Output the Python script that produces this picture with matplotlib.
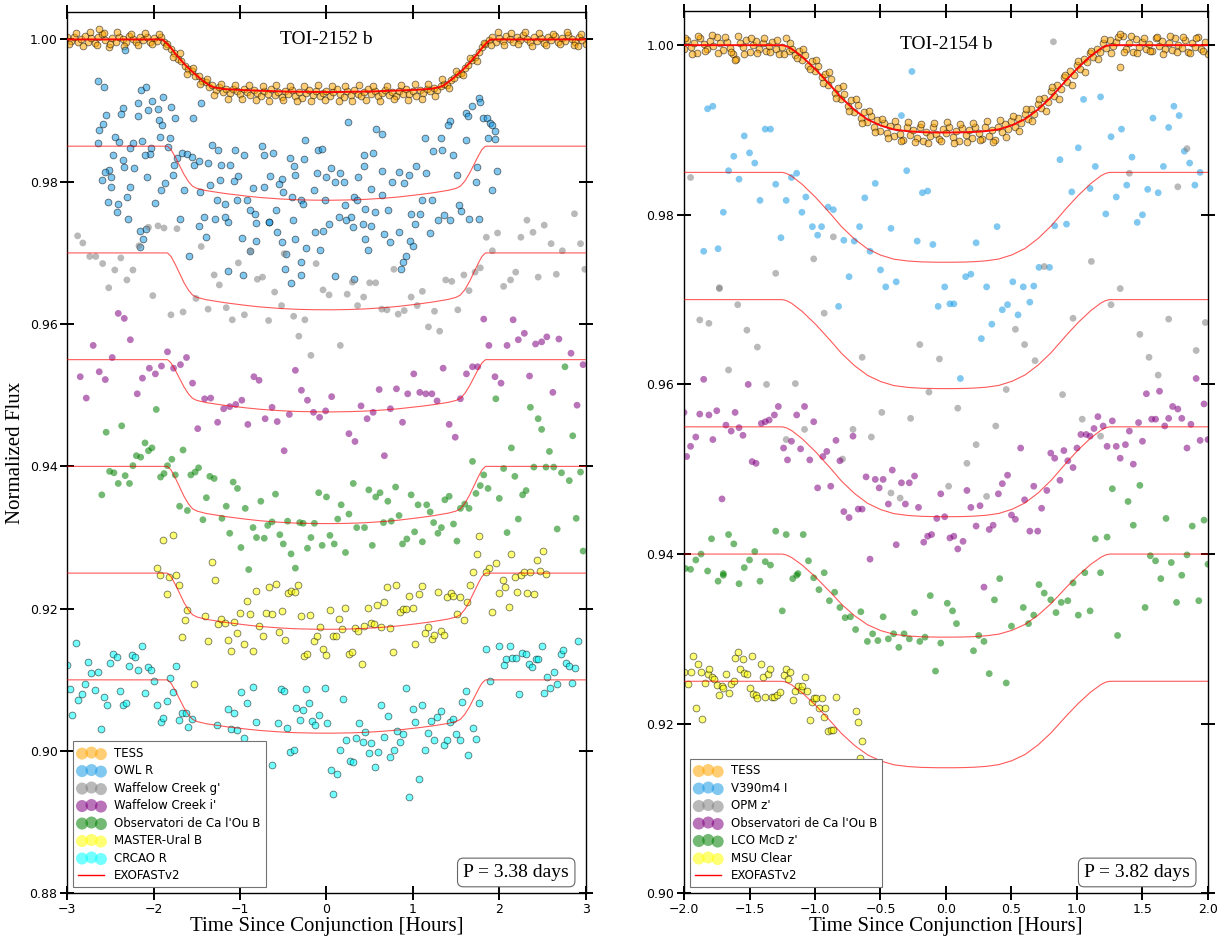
import numpy as np
import matplotlib
matplotlib.use("Agg")
import matplotlib.pyplot as plt
from matplotlib.lines import Line2D

# ---------------- LEFT PANEL DATA (TOI-2152 b) ----------------
left_labels = ["TESS", "OWL R", "Waffelow Creek g'", "Waffelow Creek i'",
               "Observatori de Ca l'Ou B", "MASTER-Ural B", "CRCAO R"]
left_colors = ["orange", "#1a9be6", "gray", "purple", "green", "yellow", "cyan"]
left_edges = [True, True, False, False, False, True, True]
left_offsets = [1.000, 0.985, 0.970, 0.955, 0.940, 0.925, 0.910]
left_depths = [0.0074, 0.0076, 0.0080, 0.00735, 0.00805, 0.0079, 0.0075]

# normalized transit profile (fraction of depth)
left_shape_t = [-3.0, -1.84, -1.80, -1.75, -1.70, -1.65, -1.60, -1.55, -1.50, -1.40, -1.20,
                -1.00, -0.80, -0.60, -0.40, -0.20, 0.0, 0.20, 0.40, 0.60, 0.80, 1.00,
                1.20, 1.40, 1.50, 1.55, 1.60, 1.65, 1.70, 1.75, 1.80, 1.84, 3.0]
left_shape_r = [0, 0, 0.06, 0.20, 0.36, 0.52, 0.65, 0.74, 0.78, 0.82, 0.87,
                0.91, 0.945, 0.97, 0.988, 0.997, 1.0, 0.997, 0.988, 0.97, 0.945, 0.91,
                0.87, 0.82, 0.78, 0.74, 0.65, 0.52, 0.36, 0.20, 0.06, 0, 0]
left_tess_shape_t = [-3.0, -1.90, -1.85, -1.80, -1.75, -1.70, -1.65, -1.60, -1.55, -1.50,
                     -1.45, -1.40, -1.35, -1.30, -1.20, -1.00, -0.50, 0.0, 0.50, 1.00,
                     1.20, 1.30, 1.35, 1.40, 1.45, 1.50, 1.55, 1.60, 1.65, 1.70, 1.75,
                     1.80, 1.85, 1.90, 3.0]
left_tess_shape_r = [0, 0, 0.07, 0.16, 0.27, 0.36, 0.46, 0.54, 0.62, 0.69,
                     0.76, 0.82, 0.88, 0.91, 0.94, 0.96, 0.99, 1.0, 0.99, 0.96,
                     0.94, 0.91, 0.88, 0.82, 0.76, 0.69, 0.62, 0.54, 0.46, 0.36, 0.27,
                     0.16, 0.07, 0, 0]

tess_l = [(-3.00,1.0003),(-2.96,0.9998),(-2.92,1.0004),(-2.88,0.9996),(-2.84,1.0001),(-2.80,1.0005),
(-2.76,0.9997),(-2.72,1.0002),(-2.68,0.9995),(-2.64,1.0003),(-2.60,1.0008),(-2.56,0.9999),(-2.52,0.9990),
(-2.48,1.0002),(-2.44,0.9996),(-2.40,1.0004),(-2.36,1.0000),(-2.32,0.9997),(-2.28,1.0005),(-2.24,1.0001),
(-2.20,0.9996),(-2.16,1.0003),(-2.12,0.9999),(-2.08,1.0004),(-2.04,0.9997),(-2.00,1.0002),(-1.96,0.9998),
(-1.92,1.0003),(-1.88,0.9996),(-1.84,0.9994),(-1.80,0.9986),(-1.76,0.9981),(-1.72,0.9972),(-1.68,0.9970),
(-1.64,0.9963),(-1.60,0.9958),(-1.56,0.9956),(-1.52,0.9948),(-1.48,0.9949),(-1.44,0.9941),(-1.40,0.9940),
(-1.36,0.9933),(-1.32,0.9936),(-1.28,0.9929),(-1.24,0.9933),(-1.20,0.9926),(-1.16,0.9931),(-1.12,0.9925),
(-1.08,0.9930),(-1.04,0.9927),(-1.00,0.9923),(-0.96,0.9930),(-0.92,0.9926),(-0.88,0.9922),(-0.84,0.9929),
(-0.80,0.9925),(-0.76,0.9920),(-0.72,0.9928),(-0.68,0.9924),(-0.64,0.9930),(-0.60,0.9922),(-0.56,0.9926),
(-0.52,0.9919),(-0.48,0.9927),(-0.44,0.9923),(-0.40,0.9929),(-0.36,0.9921),(-0.32,0.9926),(-0.28,0.9918),
(-0.24,0.9925),(-0.20,0.9929),(-0.16,0.9922),(-0.12,0.9927),(-0.08,0.9920),(-0.04,0.9925),(0.00,0.9928),
(0.04,0.9921),(0.08,0.9926),(0.12,0.9931),(0.16,0.9923),(0.20,0.9919),(0.24,0.9927),(0.28,0.9922),
(0.32,0.9929),(0.36,0.9924),(0.40,0.9920),(0.44,0.9926),(0.48,0.9931),(0.52,0.9923),(0.56,0.9927),
(0.60,0.9921),(0.64,0.9925),(0.68,0.9929),(0.72,0.9922),(0.76,0.9926),(0.80,0.9920),(0.84,0.9928),
(0.88,0.9924),(0.92,0.9930),(0.96,0.9923),(1.00,0.9927),(1.04,0.9921),(1.08,0.9929),(1.12,0.9925),
(1.16,0.9931),(1.20,0.9927),(1.24,0.9932),(1.28,0.9929),(1.32,0.9935),(1.36,0.9938),(1.40,0.9936),
(1.44,0.9943),(1.48,0.9946),(1.52,0.9951),(1.56,0.9953),(1.60,0.9960),(1.64,0.9964),(1.68,0.9971),
(1.72,0.9975),(1.76,0.9982),(1.80,0.9989),(1.84,0.9993),(1.88,0.9999),(1.92,1.0003),(1.96,0.9997),
(2.00,1.0002),(2.04,0.9998),(2.08,1.0005),(2.12,1.0001),(2.16,0.9996),(2.20,1.0003),(2.24,0.9999),
(2.28,1.0006),(2.32,1.0000),(2.36,0.9997),(2.40,1.0004),(2.44,0.9998),(2.48,1.0002),(2.52,0.9995),
(2.56,1.0003),(2.60,0.9999),(2.64,1.0005),(2.68,0.9997),(2.72,1.0002),(2.76,0.9998),(2.80,1.0006),
(2.84,1.0001),(2.88,0.9996),(2.92,1.0003),(2.96,0.9999),(3.00,0.9993),
(-2.98,0.9993),(-2.90,1.0009),(-2.82,0.9991),(-2.74,1.0010),(-2.66,0.9992),(-2.58,1.0009),(-2.50,0.9993),
(-2.42,1.0010),(-2.34,0.9991),(-2.26,1.0008),(-2.18,0.9992),(-2.10,1.0009),(-2.02,0.9993),(-1.94,1.0008),
(-1.86,0.9991),(-1.78,0.9976),(-1.70,0.9981),(-1.62,0.9952),(-1.54,0.9960),(-1.46,0.9937),(-1.38,0.9945),
(-1.30,0.9922),(-1.22,0.9938),(-1.14,0.9917),(-1.06,0.9936),(-0.98,0.9916),(-0.90,0.9936),(-0.82,0.9915),
(-0.74,0.9935),(-0.66,0.9914),(-0.58,0.9936),(-0.50,0.9915),(-0.42,0.9935),(-0.34,0.9913),(-0.26,0.9934),
(-0.18,0.9914),(-0.10,0.9936),(-0.02,0.9915),(0.06,0.9934),(0.14,0.9914),(0.22,0.9935),(0.30,0.9913),
(0.38,0.9936),(0.46,0.9915),(0.54,0.9935),(0.62,0.9914),(0.70,0.9934),(0.78,0.9916),(0.86,0.9936),
(0.94,0.9915),(1.02,0.9937),(1.10,0.9916),(1.18,0.9938),(1.26,0.9920),(1.34,0.9944),(1.42,0.9932),
(1.50,0.9955),(1.58,0.9950),(1.66,0.9974),(1.74,0.9970),(1.82,0.9995),(1.90,0.9992),(1.98,1.0010),
(2.06,0.9992),(2.14,1.0009),(2.22,0.9993),(2.30,1.0010),(2.38,0.9991),(2.46,1.0009),(2.54,0.9992),
(2.62,1.0008),(2.70,0.9993),(2.78,1.0011),(2.86,0.9992),(2.94,1.0007),(-2.63,1.0015),(2.91,0.9991)]

owl_r = [(-2.33,0.9985),(-2.64,0.9942),(-2.58,0.9933),(-2.15,0.9929),(-2.09,0.9933),(-1.89,0.9919),(-2.02,0.9913),
(-1.45,0.9911),(-2.35,0.9903),(-2.18,0.9910),(-1.80,0.9905),(-2.06,0.9901),(-1.95,0.9902),(-2.55,0.9894),
(-2.38,0.9895),(-1.75,0.9890),(-1.55,0.9890),(-2.18,0.9893),(-2.59,0.9881),(-2.63,0.9873),(-1.94,0.9887),
(-1.90,0.9880),(0.25,0.9884),(0.57,0.9874),(0.64,0.9867),(1.43,0.9885),(1.41,0.9880),(1.61,0.9897),
(1.64,0.9893),(1.68,0.9907),(1.76,0.9918),(1.78,0.9912),(1.81,0.9890),(1.86,0.9890),(1.89,0.9882),
(1.92,0.9880),(1.95,0.9872),(1.87,0.9862),(1.95,0.9860),(-2.45,0.9863),(-2.40,0.9856),(-2.64,0.9854),
(-1.93,0.9863),(-1.81,0.9862),(-2.24,0.9855),(-2.14,0.9857),(-2.27,0.9847),(-2.03,0.9848),(-2.04,0.9839),
(-2.10,0.9837),(-2.47,0.9838),(-2.36,0.9830),(-2.34,0.9821),(-2.23,0.9819),(-2.52,0.9817),(-2.56,0.9814),
(-2.60,0.9802),(-2.49,0.9807),(-2.49,0.9792),(-2.27,0.9792),(-2.08,0.9806),(-1.83,0.9849),(-1.73,0.9834),
(-1.67,0.9840),(-1.62,0.9839),(-1.56,0.9835),(-1.53,0.9823),(-1.48,0.9829),(-1.76,0.9824),(-1.78,0.9809),
(-1.91,0.9788),(-1.87,0.9798),(-2.53,0.9772),(-2.41,0.9769),(-2.31,0.9778),(-2.43,0.9757),(-2.30,0.9748),
(-1.99,0.9770),(-2.16,0.9731),(-2.09,0.9734),(-2.12,0.9719),(-2.16,0.9709),(-1.37,0.9827),(-1.33,0.9851),
(-1.25,0.9845),(-1.22,0.9824),(-1.12,0.9824),(-1.06,0.9844),(-0.96,0.9838),(-0.75,0.9850),(-0.62,0.9841),
(-0.72,0.9837),(-0.25,0.9858),(-0.10,0.9844),(-0.05,0.9846),(-0.42,0.9834),(-0.26,0.9832),(-0.38,0.9822),
(-0.36,0.9810),(-0.52,0.9804),(-0.65,0.9808),(-1.02,0.9808),(-1.07,0.9801),(-1.23,0.9802),(-1.35,0.9795),
(-1.65,0.9788),(-1.46,0.9785),(-1.27,0.9774),(-1.18,0.9769),(-1.04,0.9775),(-0.92,0.9774),(-0.85,0.9791),
(-0.72,0.9793),(-0.55,0.9797),(-0.50,0.9785),(-0.30,0.9775),(-0.11,0.9812),(-0.01,0.9807),(0.05,0.9819),
(0.16,0.9812),(0.10,0.9800),(0.20,0.9800),(0.36,0.9807),(0.43,0.9822),(0.43,0.9838),(0.54,0.9841),
(0.64,0.9815),(0.52,0.9790),(0.64,0.9781),(0.76,0.9800),(0.84,0.9814),(0.90,0.9798),(0.96,0.9809),
(1.04,0.9822),(1.15,0.9813),(1.14,0.9862),(1.23,0.9843),(1.32,0.9862),(1.34,0.9844),(1.46,0.9838),
(1.51,0.9810),(1.62,0.9859),(1.74,0.9821),(1.73,0.9799),(1.97,0.9815),(1.91,0.9788),(1.77,0.9748),
(1.65,0.9748),(1.56,0.9759),(1.53,0.9768),(1.43,0.9746),(1.29,0.9746),(1.36,0.9753),(1.20,0.9728),
(1.10,0.9774),(1.22,0.9774),(1.08,0.9755),(0.98,0.9755),(1.02,0.9741),(0.97,0.9717),(0.92,0.9696),
(0.88,0.9687),(0.86,0.9678),(0.84,0.9730),(0.74,0.9715),(0.66,0.9727),(0.71,0.9760),(0.56,0.9757),
(0.45,0.9762),(0.52,0.9738),(0.45,0.9720),(0.42,0.9741),(0.28,0.9750),(0.31,0.9736),(0.23,0.9746),
(0.14,0.9750),(0.03,0.9741),(-0.04,0.9731),(-0.13,0.9729),(-0.07,0.9704),(-0.24,0.9707),(-0.30,0.9687),
(-0.36,0.9720),(-0.39,0.9746),(-0.52,0.9716),(-0.47,0.9699),(-0.57,0.9730),(-0.66,0.9743),(-0.81,0.9742),
(-0.81,0.9717),(-0.98,0.9721),(-0.88,0.9703),(-1.14,0.9744),(-1.18,0.9750),(-1.39,0.9722),(-1.47,0.9738),
(-1.42,0.9750),(-1.69,0.9747),(-1.59,0.9695),(-1.14,0.9674),(-0.97,0.9669),(-0.48,0.9677),(-0.41,0.9658),
(-0.29,0.9669),(0.10,0.9668),(0.32,0.9664),(0.48,0.9704),(1.00,0.9710),(0.32,0.9779),(0.22,0.9767),
(0.35,0.9774),(-0.02,0.9775),(-0.14,0.9788),(-0.27,0.9769),(-0.40,0.9778),(-0.88,0.9760),(-0.83,0.9754),
(-0.59,0.9760),(-0.67,0.9744),(-1.29,0.9747)]

waffelow_g = [(-2.88,0.9724),(-2.82,0.9714),(-2.74,0.9695),(-2.67,0.9695),(-2.59,0.9685),(-2.38,0.9693),
(-2.45,0.9676),(-2.52,0.9651),(-2.31,0.9662),(-2.24,0.9676),(-2.17,0.9710),(-2.06,0.9736),(-1.95,0.9738),
(-1.88,0.9735),(-1.73,0.9734),(-2.01,0.9640),(-1.45,0.9709),(-1.51,0.9636),(-1.30,0.9669),(-1.24,0.9655),
(-1.02,0.9686),(-0.88,0.9703),(-0.80,0.9663),(-0.74,0.9666),(-0.60,0.9645),(-0.49,0.9699),(-0.12,0.9685),
(-0.04,0.9648),(0.03,0.9641),(0.24,0.9642),(0.43,0.9638),(0.50,0.9658),(0.57,0.9658),(0.30,0.9659),
(0.78,0.9677),(0.98,0.9638),(1.11,0.9646),(1.38,0.9662),(1.45,0.9660),(1.59,0.9669),(1.65,0.9647),
(1.72,0.9673),(1.78,0.9679),(1.85,0.9722),(1.92,0.9703),(1.98,0.9728),(2.05,0.9653),(2.13,0.9662),
(2.19,0.9673),(2.25,0.9722),(2.32,0.9746),(2.39,0.9729),(2.45,0.9666),(2.52,0.9739),(2.60,0.9713),
(2.66,0.9670),(2.73,0.9703),(2.87,0.9755),(2.94,0.9713),(2.99,0.9677),(-1.80,0.9613),(-1.66,0.9617),
(-1.37,0.9621),(-1.16,0.9623),(-1.09,0.9606),(-0.95,0.9613),(-0.67,0.9605),(-0.52,0.9626),(-0.38,0.9611),
(-0.25,0.9606),(-0.32,0.9583),(-0.18,0.9556),(0.16,0.9570),(0.36,0.9626),(0.64,0.9621),(0.70,0.9620),
(0.83,0.9614),(0.90,0.9619),(1.05,0.9626),(1.18,0.9596),(1.25,0.9618),(1.31,0.9590),(1.52,0.9620)]

waffelow_i = [(-2.85,0.9526),(-2.78,0.9496),(-2.70,0.9570),(-2.63,0.9533),(-2.56,0.9522),(-2.48,0.9553),
(-2.41,0.9615),(-2.34,0.9608),(-2.27,0.9578),(-2.19,0.9502),(-2.13,0.9524),(-2.05,0.9538),(-1.98,0.9530),
(-1.91,0.9541),(-1.84,0.9561),(-1.77,0.9538),(-1.69,0.9543),(-1.62,0.9553),(-1.55,0.9517),(-1.49,0.9453),
(-1.41,0.9495),(-1.34,0.9496),(-1.26,0.9462),(-1.19,0.9481),(-1.12,0.9484),(-1.05,0.9487),(-0.98,0.9493),
(-0.91,0.9459),(-0.84,0.9526),(-0.78,0.9521),(-0.71,0.9467),(-0.63,0.9483),(-0.57,0.9463),(-0.49,0.9422),
(-0.43,0.9473),(-0.36,0.9535),(-0.29,0.9507),(-0.22,0.9493),(-0.15,0.9476),(-0.08,0.9469),(-0.01,0.9478),
(0.06,0.9498),(0.26,0.9446),(0.33,0.9435),(0.40,0.9485),(0.47,0.9467),(0.54,0.9476),(0.61,0.9508),
(0.67,0.9415),(0.74,0.9481),(0.81,0.9509),(0.88,0.9462),(0.94,0.9502),(1.01,0.9530),(1.08,0.9504),
(1.15,0.9502),(1.22,0.9502),(1.28,0.9492),(1.35,0.9538),(1.42,0.9459),(1.49,0.9441),(1.55,0.9495),
(1.62,0.9530),(1.69,0.9540),(1.75,0.9540),(1.82,0.9607),(1.88,0.9570),(1.95,0.9526),(2.02,0.9517),
(2.09,0.9570),(2.16,0.9606),(2.22,0.9578),(2.29,0.9587),(2.35,0.9527),(2.42,0.9572),(2.49,0.9575),
(2.55,0.9582),(2.62,0.9504),(2.69,0.9579),(2.83,0.9559),(2.90,0.9486),(2.97,0.9543)]

caou_l = [(-2.55,0.9448),(-2.37,0.9457),(-2.60,0.9360),(-2.51,0.9393),(-2.46,0.9391),(-2.41,0.9376),
(-2.33,0.9387),(-2.28,0.9376),(-2.24,0.9401),(-2.20,0.9415),(-2.15,0.9413),(-2.10,0.9433),(-2.06,0.9422),
(-2.02,0.9426),(-1.97,0.9480),(-1.92,0.9385),(-1.88,0.9390),(-1.84,0.9401),(-1.79,0.9410),(-1.75,0.9388),
(-1.70,0.9344),(-1.66,0.9423),(-1.61,0.9338),(-1.57,0.9388),(-1.52,0.9392),(-1.48,0.9398),(-1.43,0.9325),
(-1.39,0.9356),(-1.35,0.9386),(-1.30,0.9383),(-1.21,0.9327),(-1.16,0.9344),(-1.12,0.9306),(-1.08,0.9378),
(-1.03,0.9369),(-0.99,0.9286),(-0.94,0.9341),(-0.90,0.9255),(-0.85,0.9314),(-0.81,0.9300),(-0.76,0.9351),
(-0.72,0.9299),(-0.68,0.9317),(-0.63,0.9322),(-0.59,0.9361),(-0.54,0.9304),(-0.50,0.9291),(-0.45,0.9323),
(-0.41,0.9277),(-0.36,0.9257),(-0.31,0.9321),(-0.27,0.9320),(-0.22,0.9285),(-0.18,0.9300),(-0.14,0.9320),
(-0.09,0.9363),(-0.05,0.9289),(0.00,0.9357),(0.04,0.9303),(0.09,0.9291),(0.13,0.9326),(0.17,0.9346),
(0.22,0.9279),(0.26,0.9333),(0.31,0.9376),(0.35,0.9314),(0.44,0.9314),(0.49,0.9367),(0.53,0.9289),
(0.57,0.9357),(0.62,0.9363),(0.66,0.9321),(0.71,0.9351),(0.75,0.9323),(0.80,0.9371),(0.84,0.9331),
(0.88,0.9291),(0.93,0.9298),(0.98,0.9360),(1.02,0.9308),(1.06,0.9346),(1.11,0.9294),(1.16,0.9346),
(1.20,0.9336),(1.24,0.9321),(1.29,0.9306),(1.33,0.9314),(1.37,0.9353),(1.42,0.9358),(1.47,0.9319),
(1.51,0.9295),(1.55,0.9341),(1.60,0.9347),(1.65,0.9341),(1.69,0.9407),(1.73,0.9362),(1.78,0.9373),
(1.82,0.9388),(1.87,0.9369),(1.96,0.9495),(2.00,0.9355),(2.05,0.9397),(2.09,0.9307),(2.14,0.9426),
(2.18,0.9386),(2.22,0.9326),(2.27,0.9360),(2.31,0.9366),(2.36,0.9483),(2.40,0.9399),(2.45,0.9467),
(2.49,0.9452),(2.54,0.9399),(2.58,0.9421),(2.63,0.9399),(2.67,0.9312),(2.72,0.9391),(2.76,0.9540),
(2.81,0.9380),(2.85,0.9443),(2.89,0.9327),(2.94,0.9392),(2.97,0.9281)]

master_ural = [(-1.89,0.9297),(-1.78,0.9303),(-1.33,0.9266),(1.77,0.9302),(1.74,0.9277),(2.14,0.9277),
(2.51,0.9281),(2.44,0.9268),(1.96,0.9264),(1.88,0.9257),(1.70,0.9252),(-1.53,0.9094),
(-1.96,0.9257),(-1.93,0.9248),(-1.82,0.9244),(-1.74,0.9248),(-1.71,0.9233),(-1.85,0.9221),(-1.61,0.9198),
(-1.64,0.9184),(-1.67,0.9160),(-1.41,0.9190),(-1.37,0.9154),(-1.29,0.9240),(-1.25,0.9178),(-1.22,0.9186),
(-1.18,0.9180),(-1.14,0.9156),(-1.11,0.9140),(-1.07,0.9182),(-1.03,0.9166),(-1.00,0.9194),(-0.96,0.9151),
(-0.92,0.9211),(-0.88,0.9193),(-0.85,0.9140),(-0.81,0.9225),(-0.78,0.9175),(-0.74,0.9161),(-0.70,0.9194),
(-0.67,0.9230),(-0.63,0.9193),(-0.59,0.9235),(-0.55,0.9167),(-0.52,0.9197),(-0.48,0.9156),(-0.44,0.9222),
(-0.41,0.9225),(-0.37,0.9224),(-0.33,0.9233),(-0.30,0.9190),(-0.26,0.9133),(-0.22,0.9137),(-0.19,0.9191),
(-0.15,0.9155),(-0.11,0.9161),(-0.07,0.9174),(-0.04,0.9144),(0.00,0.9135),(0.04,0.9198),(0.07,0.9162),
(0.11,0.9162),(0.15,0.9186),(0.18,0.9171),(0.22,0.9201),(0.26,0.9137),(0.29,0.9139),(0.33,0.9173),
(0.37,0.9169),(0.41,0.9122),(0.44,0.9176),(0.48,0.9201),(0.51,0.9180),(0.55,0.9179),(0.59,0.9205),
(0.63,0.9174),(0.66,0.9210),(0.70,0.9230),(0.74,0.9173),(0.77,0.9139),(0.81,0.9234),(0.85,0.9196),
(0.88,0.9200),(0.92,0.9200),(0.96,0.9218),(1.00,0.9201),(1.03,0.9151),(1.07,0.9221),(1.10,0.9232),
(1.14,0.9166),(1.18,0.9174),(1.22,0.9158),(1.25,0.9163),(1.29,0.9224),(1.33,0.9168),(1.36,0.9163),
(1.40,0.9216),(1.44,0.9222),(1.47,0.9218),(1.51,0.9193),(1.55,0.9216),(1.59,0.9184),(1.63,0.9209),
(1.66,0.9234),(1.85,0.9252),(1.92,0.9195),(2.00,0.9222),(2.04,0.9241),(2.07,0.9230),(2.11,0.9203),
(2.18,0.9244),(2.21,0.9224),(2.25,0.9248),(2.29,0.9252),(2.32,0.9222),(2.36,0.9252),(2.40,0.9220),
(2.47,0.9253),(2.54,0.9249)]

crcao_r = [(-3.00,0.9121),(-2.97,0.9087),(-2.94,0.9051),(-2.90,0.9152),(-2.87,0.9071),(-2.83,0.9080),
(-2.79,0.9094),(-2.76,0.9125),(-2.72,0.9109),(-2.68,0.9086),(-2.65,0.9111),(-2.61,0.9031),(-2.58,0.9076),
(-2.54,0.9064),(-2.51,0.9123),(-2.47,0.9137),(-2.43,0.9132),(-2.39,0.9085),(-2.36,0.9064),(-2.32,0.9067),
(-2.29,0.9120),(-2.25,0.9135),(-2.22,0.9132),(-2.18,0.9114),(-2.14,0.9147),(-2.10,0.9082),(-2.07,0.9118),
(-2.03,0.9114),(-2.00,0.9098),(-1.96,0.9064),(-1.92,0.9041),(-1.89,0.9046),(-1.85,0.9070),(-1.81,0.9103),
(-1.78,0.9083),(-1.74,0.9120),(-1.71,0.9044),(-1.67,0.9054),(-1.63,0.9054),(-1.60,0.9034),(-1.56,0.9045),
(-1.27,0.9037),(-1.14,0.9059),(-1.10,0.9031),(-1.07,0.9053),(-1.03,0.9029),(-0.99,0.9083),(-0.96,0.9018),
(-0.92,0.9067),(-0.85,0.9090),(-0.81,0.9041),(-0.63,0.8980),(-0.56,0.9039),(-0.53,0.9087),(-0.49,0.9085),
(-0.46,0.9032),(-0.42,0.8999),(-0.38,0.9001),(-0.35,0.9060),(-0.31,0.9044),(-0.27,0.9058),(-0.24,0.9087),
(-0.20,0.9068),(-0.17,0.9042),(-0.13,0.9037),(-0.09,0.9051),(-0.02,0.9089),(0.01,0.9040),(0.05,0.8973),
(0.08,0.8940),(0.12,0.8967),(0.16,0.9002),(0.19,0.9073),(0.23,0.9016),(0.27,0.8986),(0.31,0.8985),
(0.34,0.9018),(0.38,0.9039),(0.42,0.9013),(0.45,0.9027),(0.49,0.8997),(0.52,0.9011),(0.56,0.8977),
(0.60,0.8999),(0.63,0.9064),(0.67,0.9019),(0.71,0.9049),(0.74,0.8991),(0.78,0.9001),(0.82,0.9028),
(0.85,0.9013),(0.89,0.9024),(0.92,0.9089),(0.96,0.8935),(1.00,0.9059),(1.03,0.9041),(1.07,0.8960),
(1.10,0.9064),(1.14,0.9002),(1.18,0.9026),(1.21,0.9042),(1.25,0.9016),(1.28,0.9048),(1.32,0.9056),
(1.36,0.9009),(1.40,0.9015),(1.43,0.9041),(1.47,0.9045),(1.50,0.9024),(1.54,0.9016),(1.57,0.9069),
(1.61,0.9085),(1.64,0.8994),(1.69,0.9033),(1.73,0.9017),(1.77,0.9067),(1.85,0.9144),(1.89,0.9098),
(2.00,0.9148),(2.05,0.9121),(2.08,0.9129),(2.12,0.9148),(2.15,0.9131),(2.19,0.9131),(2.23,0.9080),
(2.26,0.9138),(2.31,0.9137),(2.34,0.9122),(2.38,0.9118),(2.42,0.9129),(2.45,0.9130),(2.49,0.9147),
(2.52,0.9081),(2.55,0.9104),(2.59,0.9089),(2.63,0.9111),(2.67,0.9094),(2.71,0.9136),(2.74,0.9142),
(2.77,0.9123),(2.81,0.9120),(2.84,0.9096),(2.88,0.9117),(2.91,0.9155)]

# ---------------- RIGHT PANEL DATA (TOI-2154 b) ----------------
right_labels = ["TESS", "V390m4 I", "OPM z'", "Observatori de Ca l'Ou B", "LCO McD z'", "MSU Clear"]
right_colors = ["orange", "#1a9be6", "gray", "purple", "green", "yellow"]
right_edges = [True, False, False, False, False, True]
right_offsets = [1.000, 0.985, 0.970, 0.955, 0.940, 0.925]
right_depths = [0.0103, 0.0106, 0.0105, 0.0106, 0.0098, 0.0102]

right_shape_t = [-2.0, -1.25, -1.22, -1.18, -1.10, -1.00, -0.90, -0.80, -0.70, -0.60, -0.50,
                 -0.40, -0.30, -0.20, -0.10, 0.0, 0.10, 0.20, 0.30, 0.40, 0.50, 0.60, 0.70,
                 0.80, 0.90, 1.00, 1.10, 1.18, 1.22, 1.25, 2.0]
right_shape_r = [0, 0, 0.01, 0.04, 0.13, 0.27, 0.43, 0.60, 0.74, 0.85, 0.92,
                 0.965, 0.985, 0.995, 0.999, 1.0, 0.999, 0.995, 0.985, 0.965, 0.92, 0.85, 0.74,
                 0.60, 0.43, 0.27, 0.13, 0.04, 0.01, 0, 0]

tess_r = [(-2.000,0.9995),(-1.975,1.0006),(-1.950,0.9998),(-1.925,1.0003),(-1.900,0.9991),(-1.875,1.0008),
(-1.850,1.0001),(-1.825,0.9996),(-1.800,1.0005),(-1.775,0.9999),(-1.750,1.0010),(-1.725,1.0002),(-1.700,0.9994),
(-1.675,1.0004),(-1.650,0.9997),(-1.625,0.9989),(-1.600,0.9984),(-1.575,1.0003),(-1.550,0.9998),(-1.525,1.0006),
(-1.500,0.9992),(-1.475,1.0000),(-1.450,1.0005),(-1.425,0.9996),(-1.400,1.0002),(-1.375,0.9993),(-1.350,0.9999),
(-1.325,1.0004),(-1.300,0.9995),(-1.275,0.9990),(-1.250,0.9998),(-1.225,1.0009),(-1.200,0.9993),(-1.175,0.9996),
(-1.150,0.9988),(-1.125,0.9993),(-1.100,0.9983),(-1.075,0.9988),(-1.050,0.9976),(-1.025,0.9981),(-1.000,0.9969),
(-0.975,0.9975),(-0.950,0.9962),(-0.925,0.9966),(-0.900,0.9953),(-0.875,0.9960),(-0.850,0.9944),(-0.825,0.9950),
(-0.800,0.9936),(-0.775,0.9942),(-0.750,0.9928),(-0.725,0.9935),(-0.700,0.9921),(-0.675,0.9929),(-0.650,0.9914),
(-0.625,0.9921),(-0.600,0.9909),(-0.575,0.9916),(-0.550,0.9904),(-0.525,0.9912),(-0.500,0.9899),(-0.475,0.9908),
(-0.450,0.9896),(-0.425,0.9905),(-0.400,0.9893),(-0.375,0.9904),(-0.350,0.9895),(-0.325,0.9888),(-0.300,0.9903),
(-0.275,0.9894),(-0.250,0.9900),(-0.225,0.9890),(-0.200,0.9904),(-0.175,0.9887),(-0.150,0.9898),(-0.125,0.9893),
(-0.100,0.9903),(-0.075,0.9895),(-0.050,0.9889),(-0.025,0.9901),(0.000,0.9896),(0.025,0.9904),(0.050,0.9892),
(0.075,0.9899),(0.100,0.9887),(0.125,0.9902),(0.150,0.9894),(0.175,0.9900),(0.200,0.9891),(0.225,0.9903),
(0.250,0.9896),(0.275,0.9889),(0.300,0.9904),(0.325,0.9893),(0.350,0.9900),(0.375,0.9888),(0.400,0.9903),
(0.425,0.9898),(0.450,0.9907),(0.475,0.9901),(0.500,0.9910),(0.525,0.9903),(0.550,0.9914),(0.575,0.9908),
(0.600,0.9919),(0.625,0.9913),(0.650,0.9925),(0.675,0.9919),(0.700,0.9931),(0.725,0.9926),(0.750,0.9938),
(0.775,0.9933),(0.800,0.9946),(0.825,0.9940),(0.850,0.9953),(0.875,0.9948),(0.900,0.9962),(0.925,0.9956),
(0.950,0.9970),(0.975,0.9965),(1.000,0.9977),(1.025,0.9972),(1.050,0.9984),(1.075,0.9980),(1.100,0.9991),
(1.125,0.9986),(1.150,0.9996),(1.175,0.9992),(1.200,1.0003),(1.225,0.9997),(1.250,1.0006),(1.275,0.9999),
(1.300,1.0004),(1.325,0.9974),(1.350,1.0011),(1.375,0.9996),(1.400,1.0003),(1.425,0.9992),(1.450,1.0007),
(1.475,0.9998),(1.500,1.0004),(1.525,0.9995),(1.550,1.0001),(1.575,0.9993),(1.600,1.0008),(1.625,0.9999),
(1.650,1.0005),(1.675,0.9996),(1.700,1.0002),(1.725,0.9994),(1.750,1.0009),(1.775,1.0000),(1.800,0.9997),
(1.825,1.0006),(1.850,0.9992),(1.875,1.0003),(1.900,0.9998),(1.925,1.0010),(1.950,0.9995),(1.975,1.0004),
(2.000,0.9990),
(-1.99,1.0009),(-1.94,0.9990),(-1.89,1.0011),(-1.84,0.9993),(-1.79,1.0012),(-1.74,0.9991),(-1.69,1.0010),
(-1.64,0.9992),(-1.59,1.0011),(-1.54,0.9990),(-1.49,1.0009),(-1.44,0.9991),(-1.39,1.0008),(-1.34,0.9992),
(-1.29,1.0006),(-1.24,0.9990),(-1.19,1.0003),(-1.14,0.9985),(-1.09,0.9996),(-1.04,0.9972),(-0.99,0.9982),
(-0.94,0.9955),(-0.89,0.9968),(-0.84,0.9938),(-0.79,0.9952),(-0.74,0.9922),(-0.69,0.9937),(-0.64,0.9908),
(-0.59,0.9922),(-0.54,0.9898),(-0.49,0.9913),(-0.44,0.9890),(-0.39,0.9910),(-0.34,0.9887),(-0.29,0.9909),
(-0.24,0.9886),(-0.19,0.9907),(-0.14,0.9885),(-0.09,0.9908),(-0.04,0.9887),(0.01,0.9909),(0.06,0.9885),
(0.11,0.9907),(0.16,0.9886),(0.21,0.9908),(0.26,0.9888),(0.31,0.9910),(0.36,0.9886),(0.41,0.9912),
(0.46,0.9892),(0.51,0.9917),(0.56,0.9899),(0.61,0.9925),(0.66,0.9910),(0.71,0.9937),(0.76,0.9922),
(0.81,0.9951),(0.86,0.9937),(0.91,0.9965),(0.96,0.9953),(1.01,0.9981),(1.06,0.9968),(1.11,0.9993),
(1.16,0.9984),(1.21,1.0007),(1.26,0.9991),(1.31,1.0010),(1.36,0.9992),(1.41,1.0011),(1.46,0.9991),
(1.51,1.0009),(1.56,0.9993),(1.61,1.0010),(1.66,0.9990),(1.71,1.0011),(1.76,0.9992),(1.81,1.0010),
(1.86,0.9991),(1.91,1.0009),(1.96,0.9993),(-1.61,0.9983),(1.33,1.0013)]

v390m4 = [(-1.82,0.9925),(-1.78,0.9928),(-0.26,0.9969),(-0.34,0.9917),(-1.54,0.9893),(-1.38,0.9901),
(-1.34,0.9901),(-1.62,0.9869),(-1.50,0.9873),(-1.46,0.9861),(-1.66,0.9852),(-1.58,0.9842),(-1.30,0.9836),
(-1.18,0.9844),(-1.14,0.9849),(-1.42,0.9817),(-1.22,0.9817),(-1.07,0.9821),(-1.70,0.9803),(-1.10,0.9803),
(-0.90,0.9809),(-0.86,0.9806),(-0.62,0.9820),(-0.54,0.9837),(-0.30,0.9852),(-0.18,0.9826),(-0.14,0.9828),
(-1.02,0.9786),(-0.95,0.9786),(-0.98,0.9776),(-1.26,0.9773),(-0.78,0.9770),(-0.70,0.9769),(-0.66,0.9786),
(-0.42,0.9784),(-0.22,0.9769),(-0.10,0.9765),(0.23,0.9767),(0.39,0.9786),(-0.58,0.9757),(-1.85,0.9757),
(-1.74,0.9760),(-0.74,0.9727),(-0.50,0.9735),(-0.46,0.9715),(-0.38,0.9721),(-0.01,0.9715),(0.15,0.9727),
(0.19,0.9730),(0.31,0.9715),(0.51,0.9721),(0.59,0.9715),(0.67,0.9716),(0.71,0.9738),(0.79,0.9738),
(0.83,0.9787),(0.92,0.9789),(0.87,0.9865),(0.96,0.9827),(1.01,0.9879),(1.05,0.9936),(1.10,0.9831),
(1.14,0.9857),(1.18,0.9939),(1.22,0.9801),(1.26,0.9892),(1.30,0.9821),(1.34,0.9901),(1.38,0.9835),
(1.42,0.9868),(1.46,0.9791),(1.50,0.9800),(1.54,0.9830),(1.58,0.9914),(1.62,0.9826),(1.66,0.9857),
(1.70,0.9903),(1.74,0.9928),(1.78,0.9917),(1.82,0.9875),(1.86,0.9861),(1.90,0.9835),(1.94,0.9850),
(-0.82,0.9692),(-0.06,0.9692),(0.03,0.9695),(0.06,0.9695),(0.43,0.9688),(0.47,0.9694),(0.55,0.9682),
(0.64,0.9697),(0.35,0.9671),(0.27,0.9654),(0.11,0.9607)]

opm_z = [(-1.95,0.9844),(-1.73,0.9713),(-1.30,0.9731),(-1.01,0.9748),(-0.86,0.9774),(0.82,1.0004),
(0.75,0.9739),(1.11,0.9745),(1.33,0.9713),(1.40,0.9849),(1.77,0.9833),(1.84,0.9878),
(-1.73,0.9714),(-1.59,0.9694),(-1.88,0.9676),(-1.81,0.9672),(-1.52,0.9664),(-1.44,0.9644),(-1.66,0.9617),
(-1.37,0.9600),(-1.15,0.9601),(-0.93,0.9684),(-1.08,0.9547),(-1.22,0.9535),(-0.71,0.9547),(-0.64,0.9632),
(-0.49,0.9567),(-0.57,0.9538),(-0.27,0.9560),(-0.20,0.9647),(-0.13,0.9591),(-0.05,0.9630),(0.09,0.9572),
(0.38,0.9551),(0.23,0.9529),(0.16,0.9507),(0.46,0.9594),(0.53,0.9665),(0.60,0.9647),(0.68,0.9628),
(0.89,0.9588),(0.97,0.9678),(1.04,0.9559),(1.18,0.9539),(1.26,0.9694),(1.48,0.9659),(1.55,0.9632),
(1.62,0.9611),(1.70,0.9677),(1.91,0.9640),(1.98,0.9673),(0.02,0.9480),(-0.42,0.9472),(-0.35,0.9466),
(0.31,0.9468),(-0.79,0.9512)]

caou_r = [(-2.00,0.9567),(-1.98,0.9515),(-1.95,0.9527),(-1.91,0.9538),(-1.88,0.9565),(-1.85,0.9606),
(-1.81,0.9564),(-1.78,0.9535),(-1.75,0.9569),(-1.71,0.9465),(-1.68,0.9552),(-1.64,0.9545),(-1.61,0.9567),
(-1.58,0.9549),(-1.55,0.9540),(-1.51,0.9600),(-1.48,0.9509),(-1.45,0.9507),(-1.41,0.9554),(-1.38,0.9556),
(-1.35,0.9558),(-1.31,0.9564),(-1.28,0.9574),(-1.24,0.9525),(-1.21,0.9511),(-1.18,0.9533),(-1.14,0.9564),
(-1.11,0.9524),(-1.08,0.9574),(-1.04,0.9511),(-1.01,0.9556),(-0.98,0.9478),(-0.94,0.9515),(-0.91,0.9521),
(-0.88,0.9480),(-0.84,0.9534),(-0.81,0.9510),(-0.78,0.9450),(-0.74,0.9443),(-0.71,0.9539),(-0.67,0.9453),
(-0.64,0.9453),(-0.61,0.9491),(-0.58,0.9394),(-0.54,0.9488),(-0.51,0.9478),(-0.48,0.9488),(-0.44,0.9459),
(-0.41,0.9499),(-0.38,0.9411),(-0.34,0.9484),(-0.31,0.9459),(-0.28,0.9484),(-0.24,0.9492),(-0.21,0.9455),
(-0.17,0.9414),(-0.14,0.9421),(-0.11,0.9423),(-0.07,0.9442),(-0.04,0.9471),(-0.01,0.9444),(0.03,0.9419),
(0.06,0.9421),(0.09,0.9406),(0.13,0.9415),(0.16,0.9475),(0.19,0.9455),(0.23,0.9433),(0.26,0.9457),
(0.33,0.9429),(0.36,0.9434),(0.40,0.9471),(0.43,0.9483),(0.47,0.9493),(0.50,0.9446),(0.53,0.9441),
(0.57,0.9525),(0.60,0.9464),(0.64,0.9427),(0.67,0.9480),(0.70,0.9427),(0.73,0.9454),(0.77,0.9475),
(0.80,0.9519),(0.83,0.9513),(0.87,0.9487),(0.90,0.9522),(0.93,0.9510),(0.97,0.9502),(1.00,0.9525),
(1.03,0.9541),(1.07,0.9541),(1.10,0.9539),(1.13,0.9548),(1.16,0.9562),(1.20,0.9551),(1.23,0.9527),
(1.27,0.9557),(1.30,0.9527),(1.33,0.9513),(1.37,0.9529),(1.40,0.9545),(1.43,0.9506),(1.47,0.9555),
(1.50,0.9533),(1.53,0.9589),(1.57,0.9559),(1.60,0.9559),(1.63,0.9592),(1.67,0.9551),(1.70,0.9560),
(1.73,0.9574),(1.77,0.9571),(1.80,0.9560),(1.84,0.9525),(1.87,0.9553),(1.91,0.9607),(1.94,0.9534),
(1.97,0.9577),(2.00,0.9535),(0.29,0.9361)]

lco_mcd = [(-1.99,0.9383),(-1.95,0.9382),(-1.91,0.9393),(-1.87,0.9400),(-1.82,0.9380),(-1.79,0.9418),
(-1.70,0.9375),(-1.66,0.9423),(-1.62,0.9412),(-1.54,0.9384),(-1.50,0.9393),(-1.46,0.9403),(-1.38,0.9391),
(-1.34,0.9387),(-1.30,0.9427),(-1.22,0.9423),(-1.14,0.9375),(-1.09,0.9423),(-1.05,0.9392),(-0.93,0.9378),
(1.14,0.9418),(1.23,0.9420),(1.27,0.9477),(1.39,0.9462),(1.43,0.9434),(1.48,0.9481),(1.56,0.9398),
(1.60,0.9392),(1.68,0.9442),(1.72,0.9390),(1.84,0.9399),(1.88,0.9433),(1.97,0.9440),(1.06,0.9378),
(1.18,0.9378),(1.80,0.9375),(-1.74,0.9368),(-1.70,0.9377),(-1.58,0.9365),(-1.42,0.9368),(-1.25,0.9333),
(-1.17,0.9371),(-1.13,0.9377),(-1.01,0.9372),(-0.97,0.9358),(-0.89,0.9345),(-0.85,0.9355),(-0.81,0.9337),
(-0.77,0.9325),(-0.73,0.9326),(-0.69,0.9311),(-0.65,0.9332),(-0.60,0.9297),(-0.56,0.9306),(-0.52,0.9298),
(-0.48,0.9326),(-0.44,0.9300),(-0.40,0.9306),(-0.36,0.9290),(-0.32,0.9306),(-0.28,0.9300),(-0.24,0.9331),
(-0.20,0.9297),(-0.16,0.9302),(-0.12,0.9351),(-0.08,0.9262),(-0.04,0.9295),(0.01,0.9342),(0.05,0.9333),
(0.08,0.9318),(0.21,0.9286),(0.25,0.9304),(0.29,0.9297),(0.33,0.9259),(0.37,0.9346),(0.41,0.9371),
(0.46,0.9248),(0.50,0.9315),(0.59,0.9337),(0.63,0.9318),(0.67,0.9328),(0.71,0.9364),(0.75,0.9354),
(0.80,0.9346),(0.84,0.9331),(0.88,0.9343),(0.93,0.9345),(0.97,0.9366),(1.01,0.9328),(1.10,0.9333),
(1.31,0.9304),(1.52,0.9337),(1.64,0.9371),(1.76,0.9343),(1.93,0.9345),(2.00,0.9388)]

msu_clear = [(-2.00,0.9261),(-1.97,0.9247),(-1.95,0.9261),(-1.93,0.9280),(-1.91,0.9219),(-1.89,0.9270),
(-1.87,0.9261),(-1.86,0.9206),(-1.84,0.9248),(-1.82,0.9259),(-1.81,0.9265),(-1.79,0.9255),(-1.77,0.9253),
(-1.75,0.9246),(-1.73,0.9234),(-1.71,0.9244),(-1.70,0.9242),(-1.68,0.9258),(-1.66,0.9236),(-1.64,0.9247),
(-1.62,0.9250),(-1.61,0.9277),(-1.59,0.9285),(-1.57,0.9265),(-1.55,0.9276),(-1.54,0.9260),(-1.52,0.9259),
(-1.50,0.9242),(-1.48,0.9280),(-1.47,0.9235),(-1.45,0.9234),(-1.44,0.9230),(-1.41,0.9270),(-1.40,0.9255),
(-1.38,0.9232),(-1.36,0.9259),(-1.34,0.9265),(-1.33,0.9232),(-1.31,0.9232),(-1.29,0.9234),(-1.27,0.9237),
(-1.24,0.9257),(-1.22,0.9264),(-1.21,0.9253),(-1.19,0.9261),(-1.17,0.9228),(-1.15,0.9238),(-1.13,0.9245),
(-1.11,0.9240),(-1.10,0.9244),(-1.08,0.9255),(-1.06,0.9238),(-1.04,0.9204),(-1.02,0.9226),(-1.01,0.9230),
(-0.99,0.9230),(-0.97,0.9219),(-0.95,0.9230),(-0.93,0.9208),(-0.92,0.9219),(-0.90,0.9191),(-0.88,0.9192),
(-0.86,0.9193),(-0.84,0.9232),(-0.69,0.9215),(-0.67,0.9202),(-0.64,0.9179),(-0.66,0.9160)]

# ---------------- PLOTTING ----------------
SERIF = ["Liberation Serif", "DejaVu Serif"]
fig = plt.figure(figsize=(12.23, 9.36), dpi=100)
axL = fig.add_axes([0.0550, 0.0456, 0.4239, 0.9419])
axR = fig.add_axes([0.5593, 0.0456, 0.4284, 0.9424])

MS = 24
EDGE = (0, 0, 0, 0.55)


def draw_panel(ax, series, labels, colors, edges, offsets, depths,
               shape_t, shape_r, tess_t, tess_r, xlim, ylim):
    for pts, col, edg in zip(series, colors, edges):
        arr = np.array(pts)
        ax.scatter(arr[:, 0], arr[:, 1], s=MS, color=col, alpha=0.55,
                   edgecolors=EDGE if edg else "none", linewidths=0.6, zorder=2)
    xs = np.linspace(xlim[0], xlim[1], 800)
    for i, (off, dep) in enumerate(zip(offsets, depths)):
        if i == 0:
            prof = np.interp(xs, tess_t, tess_r)
            ax.plot(xs, off - dep * prof, color="red", lw=1.4, alpha=0.95, zorder=3)
        else:
            prof = np.interp(xs, shape_t, shape_r)
            ax.plot(xs, off - dep * prof, color="red", lw=0.8, alpha=0.65, zorder=3)
    ax.set_xlim(*xlim)
    ax.set_ylim(*ylim)
    ax.tick_params(which="both", direction="inout", length=10, width=1.4,
                   top=True, right=True, labelsize=9, pad=2)
    for sp in ax.spines.values():
        sp.set_linewidth(1.0)
    handles = [ax.scatter([], [], s=75, color=c, alpha=0.55, edgecolors="none", label=l)
               for l, c in zip(labels, colors)]
    handles.append(Line2D([], [], color="red", lw=1.0, label="EXOFASTv2"))
    leg = ax.legend(handles=handles, loc="lower left", fontsize=8.5, scatterpoints=3,
                    handlelength=2.2, handletextpad=0.8, labelspacing=0.38,
                    borderpad=0.45, fancybox=False, framealpha=1, edgecolor="0.45")
    leg.get_frame().set_linewidth(0.8)
    ax.set_xlabel("Time Since Conjunction [Hours]", family=SERIF, fontsize=15, labelpad=1)


draw_panel(axL, [tess_l, owl_r, waffelow_g, waffelow_i, caou_l, master_ural, crcao_r],
           left_labels, left_colors, left_edges, left_offsets, left_depths,
           left_shape_t, left_shape_r, left_tess_shape_t, left_tess_shape_r,
           (-3, 3), (0.88, 1.0039))
axL.set_xticks([-3, -2, -1, 0, 1, 2, 3])
axL.set_yticks([0.88, 0.90, 0.92, 0.94, 0.96, 0.98, 1.00])
axL.set_ylabel("Normalized Flux", family=SERIF, fontsize=15)
axL.yaxis.set_label_coords(-0.082, 0.5)
axL.text(0.5, 0.969, "TOI-2152 b", transform=axL.transAxes, ha="center", va="center",
         family=SERIF, fontsize=14)
axL.text(0.968, 0.014, "P = 3.38 days", transform=axL.transAxes, ha="right", va="bottom",
         family=SERIF, fontsize=14,
         bbox=dict(boxstyle="round,pad=0.3", fc="white", ec="0.4", lw=0.8), zorder=5)

draw_panel(axR, [tess_r, v390m4, opm_z, caou_r, lco_mcd, msu_clear],
           right_labels, right_colors, right_edges, right_offsets, right_depths,
           right_shape_t, right_shape_r, right_shape_t, right_shape_r,
           (-2, 2), (0.90, 1.004))
axR.set_xticks([-2.0, -1.5, -1.0, -0.5, 0.0, 0.5, 1.0, 1.5, 2.0])
axR.set_yticks([0.90, 0.92, 0.94, 0.96, 0.98, 1.00])
axR.text(0.5, 0.962, "TOI-2154 b", transform=axR.transAxes, ha="center", va="center",
         family=SERIF, fontsize=14)
axR.text(0.966, 0.014, "P = 3.82 days", transform=axR.transAxes, ha="right", va="bottom",
         family=SERIF, fontsize=14,
         bbox=dict(boxstyle="round,pad=0.3", fc="white", ec="0.4", lw=0.8), zorder=5)

fig.savefig("out.png", dpi=100)
